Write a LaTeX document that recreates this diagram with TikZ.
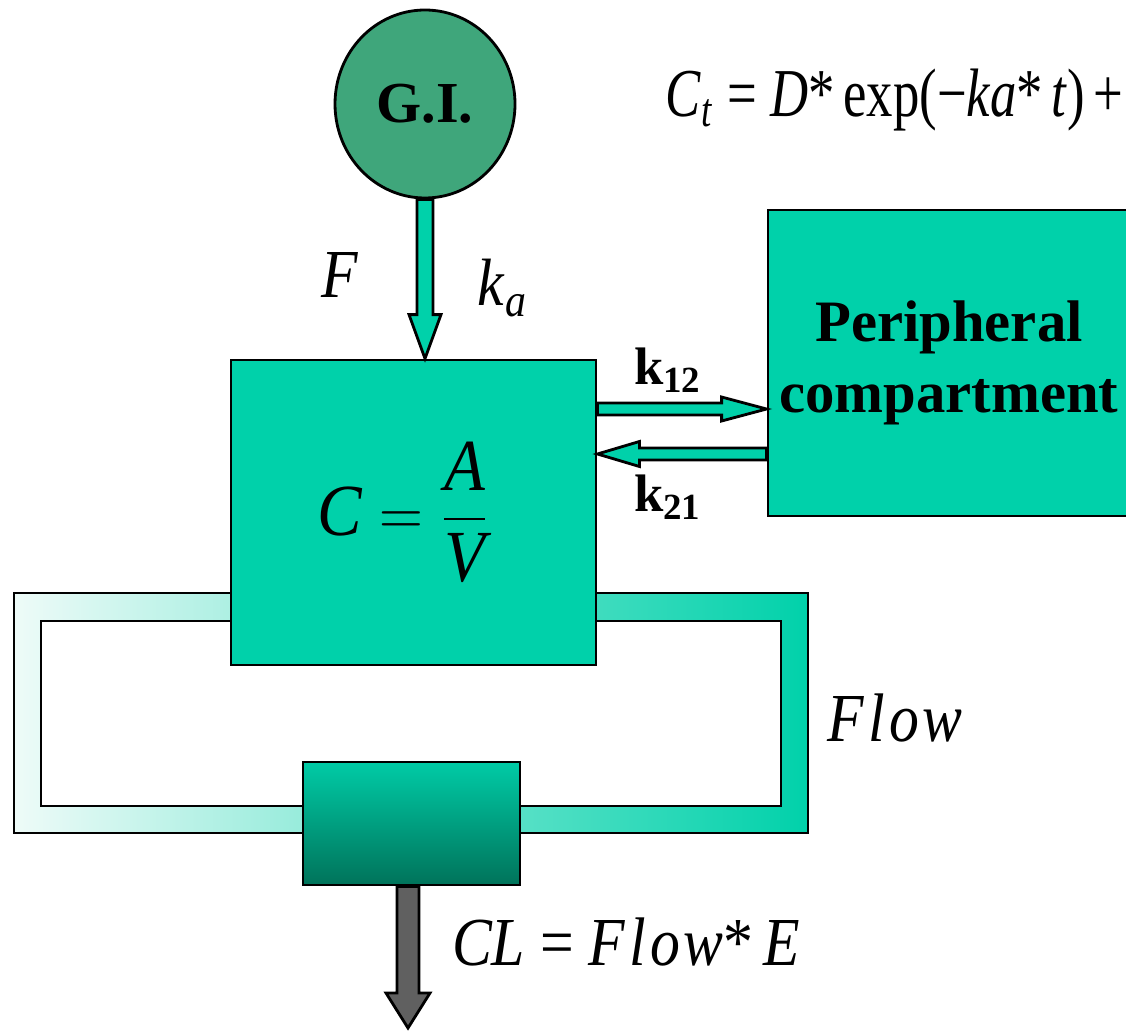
\documentclass[tikz,border=0pt]{standalone}
\usepackage{fontspec}
\setmainfont{Liberation Serif}
\usetikzlibrary{calc,shapes.geometric}
\definecolor{flowgreen}{HTML}{00D1AA}
\definecolor{flowpale}{HTML}{EEFBF8}
\definecolor{gigreen}{HTML}{3FA67B}
\definecolor{elimtop}{HTML}{00CBA6}
\definecolor{elimbot}{HTML}{00735A}
\definecolor{draingray}{HTML}{606060}
\tikzset{
  every picture/.style={line join=miter},
  compbox/.style={draw=black, line width=0.8pt, fill=flowgreen, inner sep=0pt},
  fatarrow/.style={draw=black, line width=0.8pt, fill=flowgreen},
  drainarrow/.style={fatarrow, fill=draingray},
  lbl/.style={inner sep=0pt},
}
% block arrow: style, tail, tip, half shaft, half head, head length
\newcommand{\blockarrow}[6]{%
  \draw[#1] let \p1=(#2), \p2=(#3), \n1={veclen(\x2-\x1,\y2-\y1)},
    \p3=({(\x2-\x1)/\n1},{(\y2-\y1)/\n1}) in
    ({\x1-(\y3)*(#4)},{\y1+(\x3)*(#4)})
    -- ({\x2-(\x3)*(#6)-(\y3)*(#4)},{\y2-(\y3)*(#6)+(\x3)*(#4)})
    -- ({\x2-(\x3)*(#6)-(\y3)*(#5)},{\y2-(\y3)*(#6)+(\x3)*(#5)})
    -- (\x2,\y2)
    -- ({\x2-(\x3)*(#6)+(\y3)*(#5)},{\y2-(\y3)*(#6)-(\x3)*(#5)})
    -- ({\x2-(\x3)*(#6)+(\y3)*(#4)},{\y2-(\y3)*(#6)-(\x3)*(#4)})
    -- ({\x1+(\y3)*(#4)},{\y1-(\x3)*(#4)}) -- cycle;}
% equations are set a little taller than wide
\newcommand{\tall}[2]{\scalebox{1}[#1]{#2}}

\begin{document}
\begin{tikzpicture}[x=0.1mm,y=-0.1mm]
\useasboundingbox (0,0) rectangle (1126,1030);
% circulation loop
\fill[left color=flowpale, right color=flowgreen, even odd rule]
  (14,593) rectangle (808,833) (41,621) rectangle (781,806);
\draw[line width=0.8pt] (14,593) rectangle (808,833) (41,621) rectangle (781,806);
% compartments
\node[compbox, minimum width=36.5mm, minimum height=30.5mm,
  font=\fontsize{19}{22}\selectfont] (plasma) at (413.5,512.5)
  {\hspace*{-2mm}\tall{1.1}{$\textit{C} = \displaystyle\frac{\textit{A}}{\textit{V}}$}};
\node[compbox, minimum width=36.2mm, minimum height=30.6mm, align=center,
  font=\fontsize{16.7}{20}\selectfont\bfseries] (periph) at (949,363)
  {Peripheral\\compartment};
\node[compbox, top color=elimtop, bottom color=elimbot,
  minimum width=21.7mm, minimum height=12.3mm] (elim) at (411.5,823.5) {};
\node[ellipse, draw=black, line width=0.8pt, fill=gigreen,
  minimum width=18mm, minimum height=18.8mm,
  font=\fontsize{16.5}{19}\selectfont\bfseries] (gi) at (425,104) {G.I.};
% levels of the exchange arrows
\coordinate (lvl12) at (0,409);
\coordinate (lvl21) at (0,454);
\coordinate (out) at (408,1028);
% arrows
\blockarrow{fatarrow}{gi.south}{gi.south |- plasma.north}{0.8mm}{1.6mm}{4.4mm}
\blockarrow{fatarrow}{plasma.east |- lvl12}{periph.west |- lvl12}{0.6mm}{1.2mm}{4.5mm}
\blockarrow{fatarrow}{periph.west |- lvl21}{plasma.east |- lvl21}{0.6mm}{1.25mm}{4.2mm}
\blockarrow{drainarrow}{out |- elim.south}{out}{1.1mm}{2.2mm}{3.5mm}
% labels
\node[lbl, font=\fontsize{17}{20}\selectfont] (flab) at (340,275) {\tall{1.15}{\textit{F}}};
\node[lbl, font=\fontsize{17}{20}\selectfont] (kalab) at (503,288)
  {\tall{1.12}{\textit{k}\textsubscript{\textit{a}}}};
\node[lbl, font=\fontsize{15}{18}\selectfont\bfseries] (k12lab) at (668,370)
  {k\textsubscript{12}};
\node[lbl, font=\fontsize{15}{18}\selectfont\bfseries] (k21lab) at (668,497)
  {k\textsubscript{21}};
\node[lbl, font=\fontsize{17}{20}\selectfont] (flowlab) at (895,718)
  {\tall{1.15}{\textit{F\kern1.2pt l\kern1.2pt o\kern1pt w}}};
\node[lbl, font=\fontsize{17}{20}\selectfont] (cllab) at (626,942)
  {\tall{1.15}{\textit{CL} = \textit{F\kern1.2pt l\kern1.2pt o\kern1pt w}*\,\textit{E}}};
\node[lbl, anchor=west, font=\fontsize{15}{18}\selectfont] (ctlab) at (665,100)
  {\tall{1.3}{\textit{C}\textsubscript{\textit{t}} = \textit{D}*\,exp(−\textit{ka}*\,\textit{t})\,+}};
\end{tikzpicture}
\end{document}
